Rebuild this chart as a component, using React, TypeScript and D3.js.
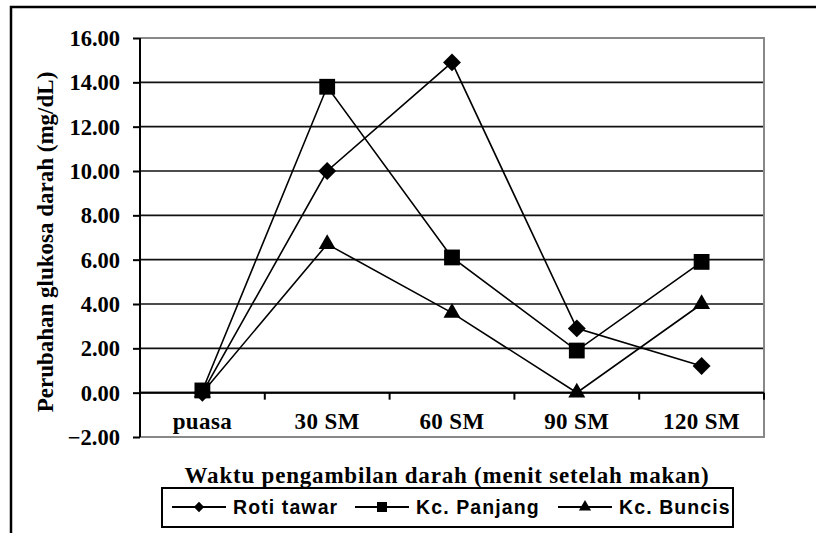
import { useEffect, useRef } from 'react'
import * as d3 from 'd3'

const categories = ['puasa', '30 SM', '60 SM', '90 SM', '120 SM']
const rotiTawar = [0, 10.0, 14.9, 2.9, 1.2]
const kcPanjang = [0.1, 13.8, 6.1, 1.9, 5.9]
const kcBuncis = [0, 6.7, 3.6, 0, 4.0]
const yTicks = [-2, 0, 2, 4, 6, 8, 10, 12, 14, 16]

const series = [
  { name: 'Roti tawar', values: rotiTawar, symbol: d3.symbolDiamond2, size: 205, legendSize: 68 },
  { name: 'Kc. Panjang', values: kcPanjang, symbol: d3.symbolSquare, size: 250, legendSize: 100 },
  { name: 'Kc. Buncis', values: kcBuncis, symbol: d3.symbolTriangle, size: 125, legendSize: 65 },
]

const serif = '"Liberation Serif", "Times New Roman", serif'
const sans = '"Liberation Sans", Arial, sans-serif'

export default function App() {
  const ref = useRef<SVGSVGElement>(null)

  useEffect(() => {
    const svg = d3.select(ref.current)
    svg.selectAll('*').remove()

    const left = 140, right = 764, top = 38, bottom = 437

    const x = d3.scaleBand().domain(categories).range([left, right])
    const y = d3.scaleLinear().domain([-2, 16]).range([bottom, top])

    // outer frame
    svg.append('rect')
      .attr('x', 11).attr('y', 7).attr('width', 900).attr('height', 600)
      .attr('fill', 'white').attr('stroke', '#000').attr('stroke-width', 2.5)

    // gridlines
    svg.append('g')
      .selectAll('line')
      .data(yTicks.filter(d => d > -2 && d < 16))
      .join('line')
      .attr('x1', left).attr('x2', right)
      .attr('y1', d => y(d)).attr('y2', d => y(d))
      .attr('stroke', '#111').attr('stroke-width', 1.7)

    // plot border (gray)
    svg.append('path')
      .attr('d', `M${left},${top}H${right}V${bottom}H${left}`)
      .attr('fill', 'none').attr('stroke', '#888').attr('stroke-width', 2)

    // y axis
    svg.append('g')
      .attr('transform', `translate(${left},0)`)
      .call(d3.axisLeft(y).tickValues(yTicks).tickSize(7).tickFormat(d => d3.format('.2f')(d as number)))
      .call(g => g.select('.domain').attr('stroke', '#000').attr('stroke-width', 2).attr('d', `M0,${top}V${bottom}`))
      .call(g => g.selectAll('.tick line').attr('stroke', '#000').attr('stroke-width', 2))
      .call(g => g.selectAll('.tick text')
        .attr('x', -20).attr('dy', '0.34em')
        .style('font-family', serif).style('font-weight', 'bold').style('font-size', '22.5px').style('fill', '#000'))

    // zero line with category ticks
    svg.append('line')
      .attr('x1', left).attr('x2', right).attr('y1', y(0)).attr('y2', y(0))
      .attr('stroke', '#000').attr('stroke-width', 2)
    svg.append('g')
      .selectAll('line')
      .data(categories)
      .join('line')
      .attr('x1', d => x(d)! + x.bandwidth()).attr('x2', d => x(d)! + x.bandwidth())
      .attr('y1', y(0)).attr('y2', y(0) + 7)
      .attr('stroke', '#000').attr('stroke-width', 2)

    // category labels
    svg.append('g')
      .selectAll('text')
      .data(categories)
      .join('text')
      .attr('x', d => x(d)! + x.bandwidth() / 2)
      .attr('y', 429)
      .attr('text-anchor', 'middle')
      .style('font-family', serif).style('font-weight', 'bold').style('font-size', '23px')
      .style('letter-spacing', '0.4px')
      .text(d => d)

    // lines + markers
    const line = d3.line<number>()
      .x((_, i) => x(categories[i])! + x.bandwidth() / 2)
      .y(d => y(d))

    series.forEach(s => {
      svg.append('path')
        .attr('d', line(s.values))
        .attr('fill', 'none').attr('stroke', '#000').attr('stroke-width', 1.6)
    })
    series.forEach(s => {
      svg.append('g')
        .selectAll('path')
        .data(s.values)
        .join('path')
        .attr('transform', (d, i) => `translate(${x(categories[i])! + x.bandwidth() / 2},${y(d)})`)
        .attr('d', d3.symbol(s.symbol, s.size)())
        .attr('fill', '#000')
    })

    // axis titles
    svg.append('text')
      .attr('x', 447).attr('y', 483)
      .attr('text-anchor', 'middle')
      .style('font-family', serif).style('font-weight', 'bold').style('font-size', '23px')
      .style('letter-spacing', '0.8px')
      .text('Waktu pengambilan darah (menit setelah makan)')

    svg.append('text')
      .attr('transform', 'translate(53,242) rotate(-90)')
      .attr('text-anchor', 'middle')
      .style('font-family', serif).style('font-weight', 'bold').style('font-size', '23px')
      .text('Perubahan glukosa darah (mg/dL)')

    // legend
    const lg = svg.append('g')
    lg.append('rect')
      .attr('x', 162).attr('y', 488).attr('width', 571).attr('height', 39)
      .attr('fill', 'white').attr('stroke', '#000').attr('stroke-width', 2)

    const legendX = [172, 355, 558]
    series.forEach((s, i) => {
      const g = lg.append('g').attr('transform', `translate(${legendX[i]},507)`)
      g.append('line').attr('x1', 0).attr('x2', 54).attr('stroke', '#000').attr('stroke-width', 2)
      g.append('path')
        .attr('transform', 'translate(27,0)')
        .attr('d', d3.symbol(s.symbol, s.legendSize)())
        .attr('fill', '#000')
      g.append('text')
        .attr('x', 61).attr('y', 7)
        .style('font-family', sans).style('font-weight', 'bold').style('font-size', '19.5px')
        .style('letter-spacing', '1.1px')
        .text(s.name)
    })
  }, [])

  return (
    <svg ref={ref} width={816} height={533}
      style={{ position: 'absolute', left: 0, top: 0, background: 'white' }} />
  )
}
